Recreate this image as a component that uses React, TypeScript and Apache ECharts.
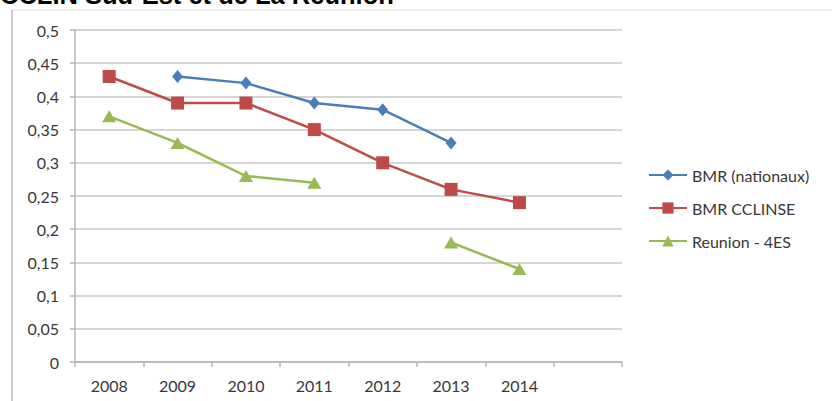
import React, { useEffect, useRef } from "react";
import * as echarts from "echarts";

const years = ["2008", "2009", "2010", "2011", "2012", "2013", "2014", ""];
const bmrNationaux = [null, 0.43, 0.42, 0.39, 0.38, 0.33, null, null];
const bmrCclinse = [0.43, 0.39, 0.39, 0.35, 0.3, 0.26, 0.24, null];
const reunion4es = [0.37, 0.33, 0.28, 0.27, null, 0.18, 0.14, null];
const titleText = "CCLIN Sud-Est et de La Réunion";

const FONT = "Lato";
const TXT = "#383838";

export default function App() {
  const ref = useRef<HTMLDivElement>(null);
  useEffect(() => {
    const chart = echarts.init(ref.current!, null, { renderer: "svg" });
    chart.setOption({
      animation: false,
      backgroundColor: "#ffffff",
      textStyle: { fontFamily: FONT },
      graphic: [
        {
          type: "line",
          shape: { x1: 12, y1: 10, x2: 832, y2: 10 },
          style: { stroke: "#ececec", lineWidth: 1.5 },
          silent: true,
        },
        {
          type: "line",
          shape: { x1: 12, y1: 10, x2: 12, y2: 401 },
          style: { stroke: "#bdbdbd", lineWidth: 1.5 },
          silent: true,
        },
        {
          type: "text",
          x: 0,
          y: -5,
          style: {
            text: titleText,
            font: "bold 25.5px 'Liberation Sans', Arial, sans-serif",
            fill: "#000000",
            verticalAlign: "middle",
            align: "left",
          },
          silent: true,
        },
      ],
      grid: { left: 75, right: 210, top: 30, bottom: 39, containLabel: false },
      legend: {
        orient: "vertical",
        left: 643,
        top: 162,
        itemWidth: 38,
        itemHeight: 14,
        itemGap: 17,
        textStyle: { fontFamily: FONT, fontSize: 16, color: TXT, lineHeight: 16 },
        data: ["BMR (nationaux)", "BMR CCLINSE", "Reunion - 4ES"],
      },
      xAxis: {
        type: "category",
        data: years,
        boundaryGap: true,
        axisLine: { lineStyle: { color: "#b4b4b4", width: 1.5 } },
        axisTick: { show: true, length: 5, lineStyle: { color: "#b4b4b4", width: 1.5 } },
        axisLabel: { color: TXT, fontSize: 16, fontFamily: FONT, margin: 15 },
        splitLine: { show: false },
      },
      yAxis: {
        type: "value",
        min: 0,
        max: 0.5,
        interval: 0.05,
        axisLine: { show: true, lineStyle: { color: "#b4b4b4", width: 1.5 } },
        axisTick: { show: true, length: 5, lineStyle: { color: "#b4b4b4", width: 1.5 } },
        axisLabel: {
          color: TXT,
          fontSize: 16,
          fontFamily: FONT,
          margin: 16,
          formatter: (v: number) => String(+v.toFixed(2)).replace(".", ","),
        },
        splitLine: { show: true, lineStyle: { color: "#c8c8c8", width: 1.5 } },
      },
      series: [
        {
          name: "BMR (nationaux)",
          type: "line",
          data: bmrNationaux,
          symbol: "diamond",
          symbolSize: [11, 13],
          color: "#4a7ebb",
          lineStyle: { width: 2.5, color: "#4a7ebb" },
          itemStyle: { color: "#4a7ebb" },
          connectNulls: false,
        },
        {
          name: "BMR CCLINSE",
          type: "line",
          data: bmrCclinse,
          symbol: "rect",
          symbolSize: 13,
          color: "#be4b48",
          lineStyle: { width: 2.5, color: "#be4b48" },
          itemStyle: { color: "#be4b48" },
          connectNulls: false,
        },
        {
          name: "Reunion - 4ES",
          type: "line",
          data: reunion4es,
          symbol: "triangle",
          symbolSize: [14, 12],
          color: "#98b954",
          lineStyle: { width: 2.5, color: "#98b954" },
          itemStyle: { color: "#98b954" },
          connectNulls: false,
        },
      ],
    });
    return () => chart.dispose();
  }, []);
  return (
    <div
      ref={ref}
      style={{ position: "fixed", left: 0, top: 0, width: 832, height: 401 }}
    />
  );
}
